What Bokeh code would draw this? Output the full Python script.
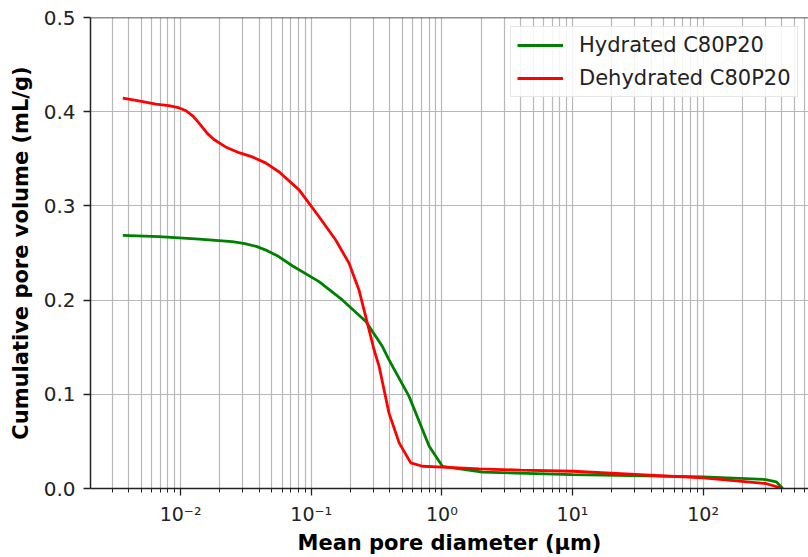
from bokeh.plotting import figure
from bokeh.models import (FixedTicker, PrintfTickFormatter, CustomJSTickFormatter,
                          Legend, LegendItem, Span, Range1d)
from bokeh.embed import file_html
from bokeh.resources import INLINE

# Mercury intrusion data: mean pore diameter (µm) vs cumulative pore volume (mL/g)
hydrated_d = [0.00361, 0.00682, 0.01387, 0.0248, 0.0310, 0.0380, 0.0460, 0.0560,
              0.0716, 0.1148, 0.173, 0.262, 0.351, 0.394, 0.561, 0.80, 1.01,
              2.05, 10.0, 100.0, 302.0, 363.0, 407.0]
hydrated_v = [0.2687, 0.2673, 0.2648, 0.2620, 0.2600, 0.2570, 0.2525, 0.2465,
              0.2365, 0.2196, 0.2002, 0.1772, 0.1507, 0.1366, 0.0978, 0.0448,
              0.0236, 0.0173, 0.0148, 0.0124, 0.0095, 0.0071, 0.0]

dehydrated_d = [0.00361, 0.00479, 0.00646, 0.00813, 0.00977, 0.0110, 0.0125, 0.0142,
                0.0160, 0.0180, 0.0221, 0.0280, 0.0354, 0.0447, 0.0569, 0.0807,
                0.1148, 0.154, 0.195, 0.232, 0.269, 0.303, 0.331, 0.394, 0.471,
                0.578, 0.710, 1.01, 1.93, 4.0, 10.0, 100.0, 302.0, 407.0]
dehydrated_v = [0.4145, 0.4115, 0.4080, 0.4065, 0.4040, 0.4010, 0.3950, 0.3860,
                0.3770, 0.3705, 0.3626, 0.3565, 0.3520, 0.3457, 0.3360, 0.3170,
                0.2885, 0.2638, 0.2390, 0.2108, 0.1755, 0.1470, 0.1296, 0.0800,
                0.0484, 0.0272, 0.0236, 0.0226, 0.0209, 0.0195, 0.0183, 0.0113,
                0.0053, 0.0]

x_major = [1e-2, 1e-1, 1e0, 1e1, 1e2]
y_major = [0.0, 0.1, 0.2, 0.3, 0.4, 0.5]

FONT = "DejaVu Sans"

p = figure(width=808, height=557, x_axis_type="log",
           x_range=Range1d(0.002043, 641.0), y_range=Range1d(0.0, 0.5),
           output_backend="svg", toolbar_location=None,
           min_border_left=90, min_border_right=0, min_border_top=17,
           min_border_bottom=68)
p.outline_line_color = None
p.background_fill_color = "white"
p.border_fill_color = "white"

# log-axis ticks: decades plus 2..9 minor positions
x_minor = [k * 10.0 ** d for d in range(-3, 3) for k in range(2, 10)]
p.xaxis.ticker = FixedTicker(ticks=x_major, minor_ticks=x_minor)
p.xaxis.formatter = CustomJSTickFormatter(code="""
    const sup = {"-": "\u207b", "0": "\u2070", "1": "\u00b9", "2": "\u00b2",
                 "3": "\u00b3", "4": "\u2074", "5": "\u2075"};
    const e = Math.round(Math.log10(tick));
    return "10" + String(e).split("").map(c => sup[c]).join("");
""")
p.yaxis.ticker = FixedTicker(ticks=y_major, minor_ticks=[])
p.yaxis.formatter = PrintfTickFormatter(format="%.1f")

for ax in (p.xaxis[0], p.yaxis[0]):
    ax.axis_line_color = "#222222"
    ax.axis_line_width = 1.5
    ax.major_tick_line_color = "#222222"
    ax.major_tick_line_width = 1.3
    ax.major_tick_out = 7
    ax.major_tick_in = 0
    ax.major_label_text_font = FONT
    ax.major_label_text_color = "#222222"
    ax.axis_label_text_font = FONT
    ax.axis_label_text_font_style = "bold"
    ax.axis_label_text_font_size = "21px"
    ax.axis_label_text_color = "black"

p.yaxis.major_label_text_font_size = "20px"
p.yaxis.major_label_standoff = 8
p.xaxis.major_label_text_font_size = "19px"
p.xaxis.major_label_standoff = 7

p.xaxis.minor_tick_line_color = "#222222"
p.xaxis.minor_tick_line_width = 1.0
p.xaxis.minor_tick_out = 4
p.xaxis.minor_tick_in = 0
p.yaxis.minor_tick_line_color = None

p.xaxis.axis_label = "Mean pore diameter (µm)"
p.yaxis.axis_label = "Cumulative pore volume (mL/g)"
p.xaxis.axis_label_standoff = 3
p.yaxis.axis_label_standoff = 8

p.xgrid.grid_line_color = "#b8b8b8"
p.xgrid.grid_line_width = 1.2
p.xgrid.minor_grid_line_color = "#b8b8b8"
p.xgrid.minor_grid_line_width = 1.2
p.ygrid.grid_line_color = "#b8b8b8"
p.ygrid.grid_line_width = 1.2

# top spine
p.add_layout(Span(location=0.5, dimension="width", line_color="#222222", line_width=1.5))

r_h = p.line(hydrated_d, hydrated_v, line_color="#008000", line_width=2.8)
r_d = p.line(dehydrated_d, dehydrated_v, line_color="#ff0000", line_width=2.8)

legend = Legend(items=[LegendItem(label="Hydrated C80P20", renderers=[r_h]),
                       LegendItem(label="Dehydrated C80P20", renderers=[r_d])],
                location=(420, 391))
legend.label_text_font = FONT
legend.label_text_font_size = "21px"
legend.label_text_color = "#222222"
legend.glyph_width = 46
legend.glyph_height = 24
legend.label_height = 24
legend.label_standoff = 16
legend.padding = 6
legend.spacing = 9
legend.margin = 0
legend.border_line_color = "#cccccc"
legend.border_line_width = 1.2
legend.background_fill_color = "white"
legend.background_fill_alpha = 0.85
p.add_layout(legend)

open("out.html", "w").write(file_html(p, INLINE))
